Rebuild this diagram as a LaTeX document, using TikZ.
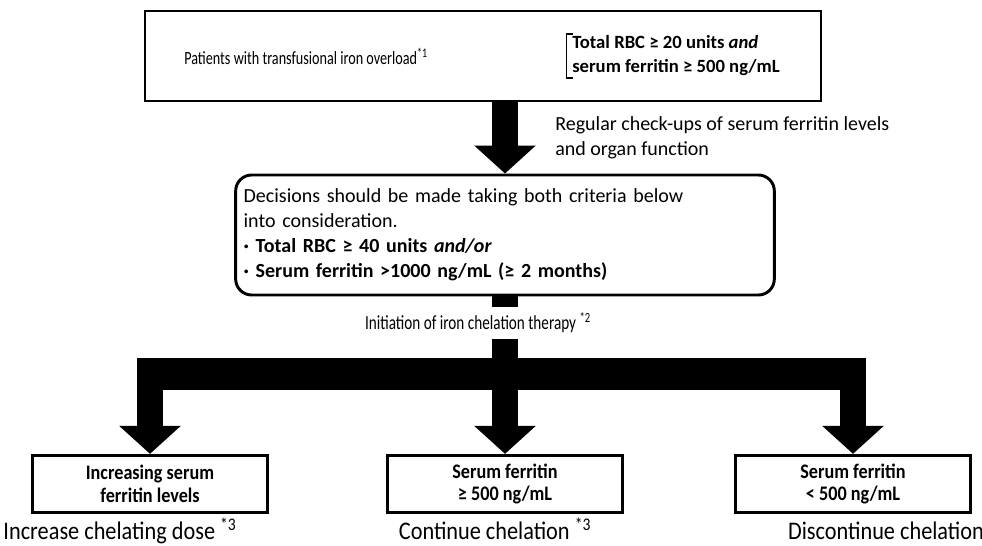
\documentclass[tikz,border=0pt]{standalone}
\usepackage{fontspec}
\setmainfont{Carlito}
\newfontfamily\narrowfont[FakeStretch=0.76]{Carlito}
\newfontfamily\capfont[FakeStretch=0.88]{Carlito}
\usetikzlibrary{arrows.meta, positioning}

\begin{document}
\begin{tikzpicture}[
  x=0.75pt, y=-0.75pt,
  frame/.style={draw, line width=2.2pt, minimum width=507pt, minimum height=67.5pt},
  critbox/.style={draw, line width=2.2pt, rounded corners=12pt, align=left,
    text width=392pt, inner xsep=6pt, minimum height=90pt,
    font=\fontsize{15}{18.8}\selectfont},
  outcome/.style={draw, line width=2.2pt, minimum width=176pt, minimum height=43pt,
    inner sep=2pt, align=center, font=\capfont\bfseries\fontsize{15.5}{17}\selectfont},
  note/.style={align=left, inner sep=0pt},
  result/.style={anchor=base, font=\capfont\fontsize{19}{22}\selectfont},
  fat/.style={line width=19.5pt, -{Triangle[length=21pt, width=45pt]}},
  bar/.style={line width=24pt}
]
\useasboundingbox (0,0) rectangle (982,546);

% Top box with the entry criteria
\node[frame] (patients) at (483,56) {};
\node[note, anchor=west, font=\narrowfont\fontsize{14}{16}\selectfont] (overload) at (184,56)
  {Patients with transfusional iron overload\textsuperscript{*1}};
\node[note, anchor=west, font=\bfseries\fontsize{14}{18}\selectfont] (cond) at (572,56)
  {Total RBC ≥ 20 units \textit{and}\\serum ferritin ≥ 500 ng/mL};
\draw[line width=1.2pt] ([xshift=1pt,yshift=1pt]cond.north west) -- ([xshift=-4pt,yshift=1pt]cond.north west)
  -- ([xshift=-4pt,yshift=-1pt]cond.south west) -- ([xshift=1pt,yshift=-1pt]cond.south west);

% Decision box
\node[critbox] (crit) at (505,235)
  {Decisions should be made taking both criteria below\\
   into consideration.\\
   \textbf{· Total RBC ≥ 40 units \textit{and/or}}\\
   \textbf{· Serum ferritin >1000 ng/mL (≥ 2 months)}};
\node[note, anchor=west, font=\fontsize{15}{18.8}\selectfont] (checkup) at (555,138)
  {Regular check-ups of serum ferritin levels\\and organ function};

\draw[fat] (patients.south -| crit.north) -- (crit.north);

% Start of chelation
\node[font=\narrowfont\fontsize{15}{17}\selectfont, inner sep=4pt] (init) at (478,323)
  {Initiation of iron chelation therapy \textsuperscript{*2}};
\coordinate (split) at (505,374);

% Outcomes
\node[outcome] (rising) at (150,484) {Increasing serum\\ferritin levels};
\node[outcome] (high) at (505,484) {Serum ferritin\\≥ 500 ng/mL};
\node[outcome] (low) at (853,484) {Serum ferritin\\< 500 ng/mL};

\node[result] (more) at (120,539) {Increase chelating dose \textsuperscript{*3}};
\node[result] (keep) at (495,539) {Continue chelation \textsuperscript{*3}};
\node[result] (stop) at (886,539) {Discontinue chelation};

% Arrows
\draw[line width=19.5pt] (crit.south) -- (crit.south |- init.north);
\draw[bar, shorten <=-9.75pt, shorten >=-9.75pt] (split -| rising.north) -- (split -| low.north);
\draw[fat] (crit.south |- init.south) -- (high.north);
\draw[fat] (split -| rising.north) -- (rising.north);
\draw[fat] (split -| low.north) -- (low.north);
\end{tikzpicture}
\end{document}
